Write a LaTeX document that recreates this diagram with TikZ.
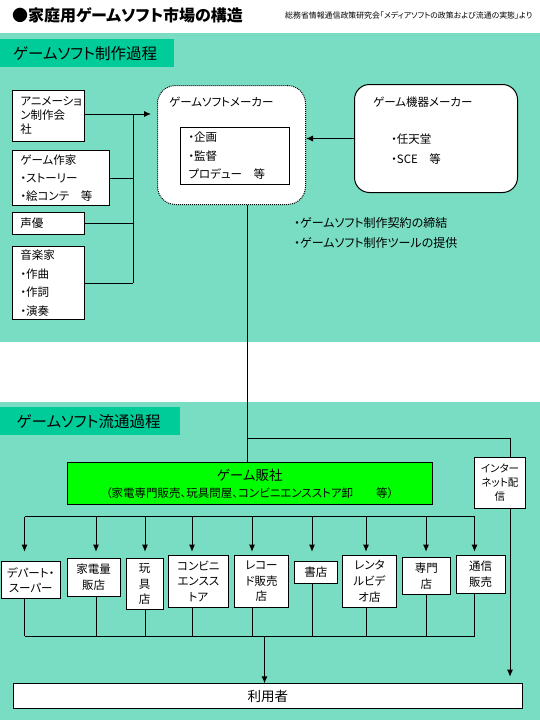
\documentclass[tikz,border=0pt]{standalone}
\usepackage{fontspec}
\setmainfont{Noto Sans CJK JP}[RawFeature={+palt}]
\usetikzlibrary{arrows.meta}
\definecolor{pat}{HTML}{78DDC2}
\definecolor{seccol}{HTML}{00CC99}
\definecolor{distcol}{HTML}{00FF00}
\newcommand{\myfs}[2]{\fontsize{#1}{#2}\selectfont}
\begin{document}
\begin{tikzpicture}[x=1pt,y=-1pt,
  box/.style={draw=black, line width=0.9pt, fill=white, inner ysep=0pt, anchor=north west},
  lbox/.style={box, align=left, inner xsep=8pt},
  cbox/.style={box, align=center, inner xsep=1pt},
  arr/.style={-{Latex[length=7pt,width=6pt]}, line width=0.9pt},
  ln/.style={line width=0.9pt},
  txt/.style={inner sep=0pt, anchor=west},
  seclab/.style={fill=seccol, anchor=north west, inner ysep=0pt, align=left},
  shopbox/.style={cbox, font=\myfs{11.5}{15.7}}
]
\useasboundingbox (0,0) rectangle (540,720);
\fill[white] (0,0) rectangle (540,720);
\fill[pat] (0,33.3) rectangle (540,341.7);
\fill[pat] (0,401.7) rectangle (540,720);

% header
\node[txt, font=\bfseries\myfs{16}{18}] (title) at (12,15.7) {●家庭用ゲームソフト市場の構造};
\node[txt, font=\myfs{7.9}{9}] (src) at (285,15.7) {総務省情報通信政策研究会「メディアソフトの政策および流通の実態」より};

% section labels
\node[seclab, minimum width=174pt, minimum height=28pt, text width=148pt, inner xsep=13pt, font=\myfs{15.5}{17}] (sec1) at (0,39) {ゲームソフト制作過程};
\node[seclab, minimum width=180pt, minimum height=28pt, text width=147pt, inner xsep=16.5pt, font=\myfs{15.5}{17}] (sec2) at (0,407) {ゲームソフト流通過程};

% left boxes
\node[lbox, text width=56pt, minimum height=51pt, font=\myfs{11.5}{14}] (anime) at (12,90) {アニメーショ\\ン制作会\\社};
\node[lbox, text width=80.7pt, minimum height=55pt, font=\myfs{11.5}{18}] (writer) at (12,150) {ゲーム作家\\・ストーリー\\・絵コンテ　等};
\node[lbox, text width=56pt, minimum height=22pt, font=\myfs{11.5}{14}] (voice) at (12,212) {声優};
\node[lbox, text width=56pt, minimum height=73pt, font=\myfs{11.5}{18.5}] (music) at (12,246) {音楽家\\・作曲\\・作詞\\・演奏};

% game soft maker
\node[draw, densely dotted, line width=1pt, fill=white, rounded corners=18pt, minimum width=148pt, minimum height=119pt, anchor=north west, inner sep=0pt] (maker) at (157,85) {};
\node[txt, font=\myfs{11.5}{14}] (makerlab) at (169,102) {ゲームソフトメーカー};
\node[lbox, text width=93pt, minimum height=57pt, font=\myfs{11.5}{18.5}] (makerin) at (180,127) {・企画\\・監督\\プロデュー　等};

% hardware maker
\node[draw, line width=1pt, fill=white, rounded corners=15pt, minimum width=163pt, minimum height=108pt, anchor=north west, inner sep=0pt] (hw) at (354,84) {};
\node[txt, font=\myfs{11.5}{14}] (hwlab) at (373,102) {ゲーム機器メーカー};
\node[txt, align=left, font=\myfs{11.5}{20.5}] (hwlist) at (391,149) {・任天堂\\・SCE　等};

\node[txt, align=left, font=\myfs{12}{20.6}] (notes) at (294,233) {・ゲームソフト制作契約の締結\\・ゲームソフト制作ツールの提供};

% left bus
\coordinate (busT) at (133,114);
\coordinate (busB) at (music.east -| busT);
\draw[ln] (busT) -- (busB);
\draw[ln] (anime.east |- busT) -- (busT);
\draw[ln] (writer.east) -- (writer.east -| busT);
\draw[ln] (voice.east) -- (voice.east -| busT);
\draw[ln] (music.east) -- (busB);
\draw[arr, shorten >=6pt] (busT) -- (maker.west |- busT);
\draw[arr] (hw.west) -- (maker.east |- hw.west);

% distribution
\node[box, fill=distcol, minimum width=365.5pt, minimum height=42pt, align=center, inner xsep=2pt, font=\myfs{11.5}{16.7}] (dist) at (66.5,462.3) {{\fontsize{13.5}{16.7}\selectfont ゲーム販社}\\（家電専門販売、玩具問屋、コンビニエンスストア卸　　等）};
\node[cbox, minimum width=51pt, minimum height=51pt, font=\myfs{10.5}{14.3}] (net) at (474,456.5) {インター\\ネット配\\信};

\coordinate (jn) at (247,438.3);
\coordinate (nx) at (510,438.3);
\draw[ln] (maker.south -| jn) -- (dist.north -| jn);
\draw[ln] (jn) -- (nx) -- (net.north -| nx);

% shops
\node[shopbox, minimum width=59.5pt, minimum height=37.3pt] (s1) at (0.5,561) {デパート・\\スーパー};
\node[shopbox, minimum width=53.5pt, minimum height=37.4pt] (s2) at (66.5,558.3) {家電量\\販店};
\node[shopbox, minimum width=36.5pt, minimum height=51pt] (s3) at (126,558.3) {玩\\具\\店};
\node[shopbox, minimum width=60pt, minimum height=51.7pt] (s4) at (168,555) {コンビニ\\エンスス\\トア};
\node[shopbox, minimum width=54pt, minimum height=51.7pt] (s5) at (234,555) {レコー\\ド販売\\店};
\node[shopbox, minimum width=43pt, minimum height=22.3pt] (s6) at (294,561) {書店};
\node[shopbox, minimum width=54pt, minimum height=51.7pt] (s7) at (342,555) {レンタ\\ルビデ\\オ店};
\node[shopbox, minimum width=48pt, minimum height=37.3pt] (s8) at (402,557) {専門\\店};
\node[shopbox, minimum width=48.5pt, minimum height=37.7pt] (s9) at (456,555) {通信\\販売};

\node[cbox, minimum width=509.3pt, minimum height=25pt, font=\myfs{13.5}{16}] (user) at (12.7,683.3) {利用者};

\foreach \i/\x/\s in {1/24.5/9.3, 2/96/6.6, 3/145/6.6, 4/192/3.3, 5/252/3.3, 6/312/9.3, 7/366/3.3, 8/426/5.3, 9/474.5/3.3} {
  \coordinate (d\i) at (\x,516.5);
  \coordinate (e\i) at (\x,636);
  \draw[arr, shorten >=\s pt] (d\i) -- (s\i.north -| d\i);
  \draw[ln] (s\i.south -| d\i) -- (e\i);
}
\draw[ln] (d1) -- (d9);
\draw[ln] (e1) -- (e9);
\coordinate (uc) at (264.5,636);
\draw[arr] (uc) -- (user.north -| uc);
\draw[arr, shorten >=6.6pt] (net.south -| nx) -- (user.north -| nx);
\end{tikzpicture}
\end{document}
